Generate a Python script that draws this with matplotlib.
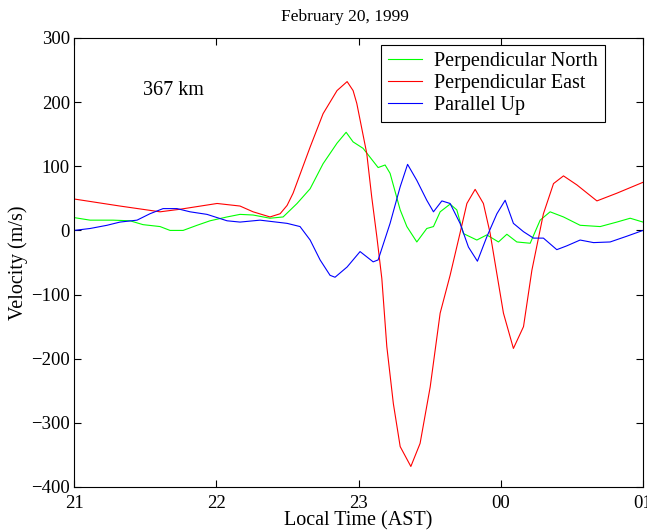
import matplotlib
matplotlib.use('Agg')
from matplotlib import pyplot as plt

# time in hours after 21:00 local time
north_t = [0, 0.113, 0.274, 0.394, 0.485, 0.605, 0.675, 0.767, 0.865, 0.956, 1.076, 1.167,
           1.259, 1.378, 1.470, 1.568, 1.660, 1.751, 1.849, 1.913, 1.962, 2.032, 2.138, 2.187,
           2.222, 2.293, 2.340, 2.410, 2.480, 2.527, 2.574, 2.644, 2.691, 2.738, 2.832, 2.902,
           2.984, 3.043, 3.113, 3.207, 3.277, 3.347, 3.441, 3.558, 3.699, 3.816, 3.910, 4.0]
north_v = [20, 16, 16, 15, 9, 6, 0, 0, 8, 15, 21, 25,
           24, 19, 21, 42, 65, 104, 136, 153, 138, 128, 98, 102,
           89, 32, 6, -18, 3, 6, 29, 41, 32, -5, -15, -7,
           -18, -6, -18, -20, 16, 29, 21, 8, 6, 13, 19, 13]

east_t = [0, 0.323, 0.605, 0.745, 1.006, 1.167, 1.259, 1.378, 1.449, 1.498, 1.540, 1.660,
          1.751, 1.849, 1.920, 1.962, 1.988, 2.058, 2.093, 2.129, 2.164, 2.199, 2.245, 2.293,
          2.368, 2.433, 2.504, 2.574, 2.644, 2.714, 2.762, 2.820, 2.878, 2.925, 2.973, 3.019,
          3.089, 3.160, 3.219, 3.300, 3.371, 3.441, 3.535, 3.676, 3.816, 4.0]
east_v = [49, 38, 29, 33, 42, 38, 29, 21, 26, 39, 58, 130,
          182, 218, 232, 218, 198, 120, 52, -10, -75, -181, -270, -337,
          -368, -332, -244, -129, -70, -4, 42, 64, 42, -4, -68, -129,
          -184, -150, -62, 26, 73, 85, 71, 46, 58, 75]

up_t = [0, 0.113, 0.232, 0.323, 0.443, 0.534, 0.626, 0.724, 0.816, 0.935, 1.076, 1.167,
        1.308, 1.498, 1.589, 1.660, 1.730, 1.800, 1.835, 1.920, 2.011, 2.103, 2.138, 2.222,
        2.293, 2.345, 2.410, 2.480, 2.527, 2.586, 2.644, 2.714, 2.773, 2.836, 2.902, 2.973,
        3.031, 3.089, 3.160, 3.230, 3.300, 3.394, 3.465, 3.558, 3.652, 3.769, 3.887, 4.0]
up_v = [0, 3, 8, 13, 16, 26, 34, 34, 29, 25, 15, 13,
        16, 11, 6, -15, -46, -70, -73, -57, -33, -49, -46, 11,
        68, 103, 78, 47, 29, 46, 42, 11, -26, -48, -10, 26,
        47, 11, -2, -12, -12, -30, -24, -15, -19, -18, -9, 0]

hour_ticks = [0, 1, 2, 3, 4]
hour_labels = ['21', '22', '23', '00', '01']
v_ticks = [-400, -300, -200, -100, 0, 100, 200, 300]

plt.rcParams['font.family'] = ['Liberation Serif', 'DejaVu Serif']
plt.rcParams['font.size'] = 14

fig = plt.figure(figsize=(6.47, 5.32), dpi=100)
ax = fig.add_axes([0.1144, 0.0846, 0.8794, 0.844])

ax.plot(north_t, north_v, color='#00ff00', lw=0.8, label='Perpendicular North')
ax.plot(east_t, east_v, color='#ff0000', lw=0.8, label='Perpendicular East')
ax.plot(up_t, up_v, color='#0000ff', lw=0.8, label='Parallel Up')

ax.set_xlim(0, 4)
ax.set_ylim(-400, 300)
ax.set_xticks(hour_ticks)
ax.set_xticklabels(hour_labels)
ax.set_yticks(v_ticks)
ax.set_yticklabels([str(v).replace('-', '\u2212') for v in v_ticks])
ax.tick_params(direction='in', top=True, right=True, length=5, width=0.8,
               labelsize=13.5)
ax.tick_params(axis='x', pad=6)
ax.tick_params(axis='y', pad=3)
for s in ax.spines.values():
    s.set_linewidth(0.8)

ax.set_xlabel('Local Time (AST)', labelpad=-1, fontsize=14.5)
ax.set_ylabel('Velocity (m/s)', labelpad=2, fontsize=14.5)
fig.text(345 / 647, 1 - 17 / 532, 'February 20, 1999', ha='center', va='center', fontsize=12.5)
ax.text(0.485, 218, '367 km', ha='left', va='center', fontsize=14.5)

leg = ax.legend(loc='upper right', bbox_to_anchor=(0.933, 0.9844), fancybox=False,
                edgecolor='black', framealpha=1, borderpad=0.35, handlelength=1.7,
                handletextpad=0.6, labelspacing=0.15, borderaxespad=0, fontsize=14.5)
leg.get_frame().set_linewidth(0.8)

plt.savefig('out.png', dpi=100)
